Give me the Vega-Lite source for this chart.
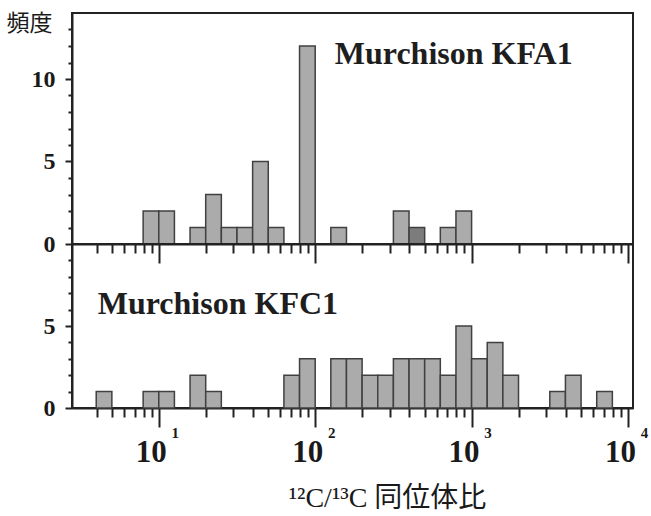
{
  "$schema": "https://vega.github.io/schema/vega-lite/v6.json",
  "background": "white",
  "padding": {"left": 5, "top": 11, "right": 0, "bottom": 0},
  "bounds": "flush",
  "spacing": 0,
  "config": {
    "view": {"stroke": "#222222", "strokeWidth": 2},
    "axis": {
      "grid": false,
      "domainColor": "#222222",
      "domainWidth": 2,
      "tickColor": "#222222",
      "tickWidth": 2,
      "labelFont": "Liberation Serif",
      "labelFontWeight": "bold",
      "labelColor": "#1a1a1a",
      "labelOverlap": false,
      "labelFlush": false
    }
  },
  "datasets": {
    "hist": [
      {"panel": "KFA1", "lo": 7.943, "hi": 10, "count": 2},
      {"panel": "KFA1", "lo": 10, "hi": 12.589, "count": 2},
      {"panel": "KFA1", "lo": 15.849, "hi": 19.953, "count": 1},
      {"panel": "KFA1", "lo": 19.953, "hi": 25.119, "count": 3},
      {"panel": "KFA1", "lo": 25.119, "hi": 31.623, "count": 1},
      {"panel": "KFA1", "lo": 31.623, "hi": 39.811, "count": 1},
      {"panel": "KFA1", "lo": 39.811, "hi": 50.119, "count": 5},
      {"panel": "KFA1", "lo": 50.119, "hi": 63.096, "count": 1},
      {"panel": "KFA1", "lo": 79.433, "hi": 100, "count": 12},
      {"panel": "KFA1", "lo": 125.89, "hi": 158.49, "count": 1},
      {"panel": "KFA1", "lo": 316.23, "hi": 398.11, "count": 2},
      {"panel": "KFA1", "lo": 398.11, "hi": 501.19, "count": 1},
      {"panel": "KFA1", "lo": 630.96, "hi": 794.33, "count": 1},
      {"panel": "KFA1", "lo": 794.33, "hi": 1000, "count": 2},
      {"panel": "KFC1", "lo": 3.981, "hi": 5.012, "count": 1},
      {"panel": "KFC1", "lo": 7.943, "hi": 10, "count": 1},
      {"panel": "KFC1", "lo": 10, "hi": 12.589, "count": 1},
      {"panel": "KFC1", "lo": 15.849, "hi": 19.953, "count": 2},
      {"panel": "KFC1", "lo": 19.953, "hi": 25.119, "count": 1},
      {"panel": "KFC1", "lo": 63.096, "hi": 79.433, "count": 2},
      {"panel": "KFC1", "lo": 79.433, "hi": 100, "count": 3},
      {"panel": "KFC1", "lo": 125.89, "hi": 158.49, "count": 3},
      {"panel": "KFC1", "lo": 158.49, "hi": 199.53, "count": 3},
      {"panel": "KFC1", "lo": 199.53, "hi": 251.19, "count": 2},
      {"panel": "KFC1", "lo": 251.19, "hi": 316.23, "count": 2},
      {"panel": "KFC1", "lo": 316.23, "hi": 398.11, "count": 3},
      {"panel": "KFC1", "lo": 398.11, "hi": 501.19, "count": 3},
      {"panel": "KFC1", "lo": 501.19, "hi": 630.96, "count": 3},
      {"panel": "KFC1", "lo": 630.96, "hi": 794.33, "count": 2},
      {"panel": "KFC1", "lo": 794.33, "hi": 1000, "count": 5},
      {"panel": "KFC1", "lo": 1000, "hi": 1258.9, "count": 3},
      {"panel": "KFC1", "lo": 1258.9, "hi": 1584.9, "count": 4},
      {"panel": "KFC1", "lo": 1584.9, "hi": 1995.3, "count": 2},
      {"panel": "KFC1", "lo": 3162.3, "hi": 3981.1, "count": 1},
      {"panel": "KFC1", "lo": 3981.1, "hi": 5011.9, "count": 2},
      {"panel": "KFC1", "lo": 6309.6, "hi": 7943.3, "count": 1}
    ]
  },
  "vconcat": [
    {
      "width": 561,
      "height": 231,
      "resolve": {"axis": {"y": "independent"}},
      "layer": [
        {
          "data": {"name": "hist"},
          "transform": [{"filter": "datum.panel == 'KFA1'"}],
          "mark": {"type": "bar", "stroke": "#404040", "strokeWidth": 1.5, "orient": "vertical"},
          "encoding": {
            "x": {
              "field": "lo",
              "type": "quantitative",
              "scale": {"type": "log", "domain": [3, 10000], "nice": false},
              "axis": {
                "orient": "bottom",
                "values": [4, 5, 6, 7, 8, 9, 10, 20, 30, 40, 50, 60, 70, 80, 90, 100, 200, 300, 400, 500, 600, 700, 800, 900, 1000, 2000, 3000, 4000, 5000, 6000, 7000, 8000, 9000, 10000],
                "labels": false,
                "title": null,
                "tickSize": {"condition": {"test": "datum.value == 10 || datum.value == 100 || datum.value == 1000 || datum.value == 10000", "value": 19}, "value": 9}
              }
            },
            "x2": {"field": "hi"},
            "y": {
              "field": "count",
              "type": "quantitative",
              "scale": {"domain": [0, 14], "nice": false},
              "axis": {
                "orient": "left",
                "values": [0, 5, 10],
                "labelFontSize": 24,
                "labelPadding": 10,
                "labelBaseline": "middle",
                "tickSize": 7,
                "title": "頻度",
                "titleFont": "Noto Sans CJK JP",
                "titleFontSize": 23,
                "titleFontWeight": "normal",
                "titleColor": "#1a1a1a",
                "titleAngle": 0,
                "titleAlign": "left",
                "titleBaseline": "top",
                "titleX": -66,
                "titleY": -1
              }
            },
            "y2": {"datum": 0},
            "fill": {
              "condition": {"test": "datum.lo == 398.11", "value": "#7c7c7c"},
              "value": "#ababab"
            }
          }
        },
        {
          "data": {"values": [{"name": "Murchison KFA1"}]},
          "mark": {"type": "text", "font": "Liberation Serif", "fontWeight": "bold", "fontSize": 32, "align": "left", "baseline": "alphabetic", "color": "#1e1e1e"},
          "encoding": {
            "x": {"datum": 133.4, "type": "quantitative"},
            "y": {
              "datum": 10.9,
              "type": "quantitative",
              "axis": {
                "orient": "left",
                "values": [1, 2, 3, 4, 6, 7, 8, 9, 11, 12, 13],
                "labels": false,
                "domain": false,
                "tickSize": 4,
                "title": null
              }
            },
            "text": {"field": "name"}
          }
        }
      ]
    },
    {
      "width": 561,
      "height": 164,
      "resolve": {"axis": {"x": "independent", "y": "independent"}},
      "layer": [
        {
          "data": {"name": "hist"},
          "transform": [{"filter": "datum.panel == 'KFC1'"}],
          "mark": {"type": "bar", "stroke": "#404040", "strokeWidth": 1.5, "fill": "#ababab", "orient": "vertical"},
          "encoding": {
            "x": {
              "field": "lo",
              "type": "quantitative",
              "scale": {"type": "log", "domain": [3, 10000], "nice": false},
              "axis": {
                "orient": "bottom",
                "values": [4, 5, 6, 7, 8, 9, 10, 20, 30, 40, 50, 60, 70, 80, 90, 100, 200, 300, 400, 500, 600, 700, 800, 900, 1000, 2000, 3000, 4000, 5000, 6000, 7000, 8000, 9000, 10000],
                "labelExpr": "(datum.value == 10 || datum.value == 100 || datum.value == 1000 || datum.value == 10000) ? '10' : ''",
                "labelOverlap": false,
                "labelFontSize": 31,
                "labelOffset": -8,
                "labelBaseline": "alphabetic",
                "labelPadding": 34,
                "tickSize": {"condition": {"test": "datum.value == 10 || datum.value == 100 || datum.value == 1000 || datum.value == 10000", "value": 19}, "value": 9},
                "title": "¹²C/¹³C  同位体比",
                "titleFont": "Liberation Serif, Noto Sans CJK JP",
                "titleFontSize": 28,
                "titleFontWeight": "normal",
                "titleColor": "#1a1a1a",
                "titleAlign": "center",
                "titleBaseline": "alphabetic",
                "titleX": 315,
                "titleY": 98
              }
            },
            "x2": {"field": "hi"},
            "y": {
              "field": "count",
              "type": "quantitative",
              "scale": {"domain": [0, 10], "nice": false},
              "axis": {
                "orient": "left",
                "values": [0, 5],
                "labelFontSize": 24,
                "labelPadding": 10,
                "labelBaseline": "middle",
                "tickSize": 7,
                "title": null
              }
            },
            "y2": {"datum": 0}
          }
        },
        {
          "data": {"values": [{"name": "Murchison KFC1"}]},
          "mark": {"type": "text", "font": "Liberation Serif", "fontWeight": "bold", "fontSize": 32, "align": "left", "baseline": "alphabetic", "color": "#1e1e1e"},
          "encoding": {
            "x": {
              "datum": 4.07,
              "type": "quantitative",
              "axis": {
                "orient": "bottom",
                "values": [10, 100, 1000, 10000],
                "labelExpr": "datum.value == 10 ? '1' : datum.value == 100 ? '2' : datum.value == 1000 ? '3' : '4'",
                "labelOverlap": false,
                "labelFontSize": 15,
                "labelOffset": 16,
                "labelBaseline": "alphabetic",
                "labelPadding": 29,
                "ticks": false,
                "domain": false,
                "title": null
              }
            },
            "y": {
              "datum": 5.71,
              "type": "quantitative",
              "axis": {
                "orient": "left",
                "values": [1, 2, 3, 4, 6, 7, 8, 9],
                "labels": false,
                "domain": false,
                "tickSize": 4,
                "title": null
              }
            },
            "text": {"field": "name"}
          }
        }
      ]
    }
  ]
}
